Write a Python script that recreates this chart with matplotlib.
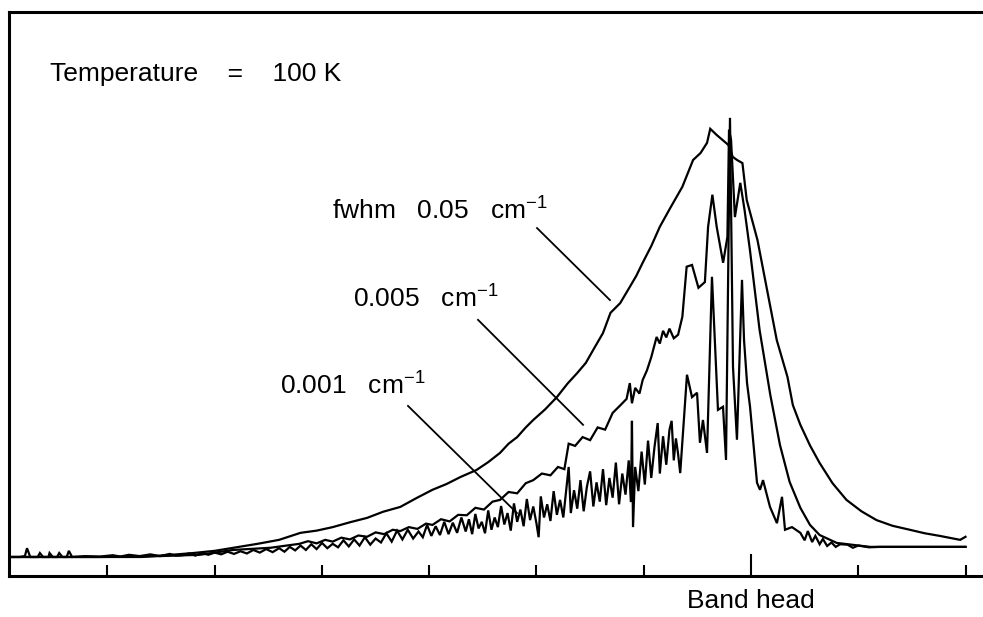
import matplotlib
matplotlib.use("Agg")
import matplotlib.pyplot as plt

# ----------------------------
# Data (arbitrary units, band head at x = 0, tick spacing = 1)
# each entry: (relative wavenumber, intensity)
# ----------------------------
# fwhm 0.05 cm-1
spec_005 = [
    (-6.92, 0.0), (-5.68, 0.0), (-5.40, 0.5), (-5.20, 0.9), (-5.00, 1.4),
    (-4.80, 2.2), (-4.60, 3.0), (-4.40, 3.9), (-4.20, 5.5), (-4.05, 6.0),
    (-3.90, 6.8), (-3.74, 7.9), (-3.58, 8.9), (-3.43, 10.3), (-3.27, 11.4),
    (-3.12, 13.4), (-2.97, 15.3), (-2.84, 16.6), (-2.71, 18.2), (-2.56, 19.8),
    (-2.45, 21.6), (-2.34, 23.7), (-2.26, 25.8), (-2.18, 27.3), (-2.10, 29.5),
    (-2.03, 31.2), (-1.92, 33.6), (-1.81, 36.4), (-1.71, 39.5), (-1.62, 41.9),
    (-1.54, 44.2), (-1.47, 47.2), (-1.38, 51.0), (-1.31, 55.6), (-1.22, 57.8),
    (-1.13, 61.5), (-1.07, 64.0), (-1.01, 67.0), (-0.93, 70.8), (-0.85, 75.2),
    (-0.75, 79.6), (-0.64, 84.3), (-0.54, 90.4), (-0.47, 92.0), (-0.41, 94.3),
    (-0.38, 97.5), (-0.32, 96.1), (-0.21, 93.8), (-0.17, 91.1), (-0.13, 90.4),
    (-0.08, 89.7), (-0.04, 81.3), (0.06, 72.2), (0.15, 60.8), (0.24, 49.4),
    (0.34, 41.0), (0.39, 34.6), (0.46, 30.1), (0.55, 25.4), (0.64, 21.4),
    (0.76, 16.8), (0.89, 13.0), (1.03, 10.4), (1.17, 8.4), (1.32, 7.1),
    (1.48, 6.2), (1.62, 5.4), (1.76, 4.8), (1.95, 3.9), (2.00, 4.6),
]

# 0.005 cm-1
spec_0005 = [
    (-6.92, 0.0), (-6.07, 0.0), (-5.51, 0.2), (-5.14, 0.5), (-4.83, 1.6),
    (-4.48, 2.1), (-4.21, 3.0), (-4.13, 3.6), (-4.05, 3.1), (-3.97, 3.9),
    (-3.90, 3.5), (-3.82, 4.4), (-3.74, 4.0), (-3.66, 4.9), (-3.58, 4.6),
    (-3.50, 5.6), (-3.42, 5.2), (-3.34, 6.2), (-3.27, 5.9), (-3.19, 6.8),
    (-3.11, 6.4), (-3.03, 7.6), (-2.97, 7.3), (-2.89, 8.6), (-2.81, 8.1),
    (-2.73, 9.6), (-2.65, 9.5), (-2.57, 11.2), (-2.49, 10.8), (-2.41, 12.6),
    (-2.34, 13.0), (-2.26, 14.8), (-2.18, 14.5), (-2.10, 16.8), (-2.03, 17.5),
    (-1.95, 19.0), (-1.87, 18.6), (-1.80, 20.5), (-1.74, 20.0), (-1.70, 25.8),
    (-1.64, 25.3), (-1.57, 27.3), (-1.50, 26.6), (-1.43, 29.5), (-1.36, 29.0),
    (-1.29, 32.8), (-1.22, 34.5), (-1.16, 36.0), (-1.13, 39.6), (-1.11, 35.0),
    (-1.08, 38.5), (-1.04, 37.2), (-1.01, 40.3), (-0.97, 42.5), (-0.93, 45.5),
    (-0.88, 50.1), (-0.85, 48.6), (-0.82, 51.5), (-0.79, 50.0), (-0.76, 52.0),
    (-0.72, 49.8), (-0.68, 50.6), (-0.64, 54.7), (-0.60, 66.1), (-0.55, 66.5),
    (-0.49, 61.3), (-0.43, 62.6), (-0.40, 75.2), (-0.36, 82.5), (-0.32, 75.2),
    (-0.26, 67.0), (-0.22, 72.9), (-0.205, 97.3), (-0.186, 95.0), (-0.15, 77.4),
    (-0.10, 85.2), (-0.06, 79.0), (-0.01, 69.9), (0.08, 51.7), (0.18, 36.9),
    (0.27, 25.5), (0.36, 17.1), (0.46, 11.2), (0.55, 7.3), (0.64, 5.0),
    (0.80, 3.2), (1.11, 2.3), (2.00, 2.3),
]

# 0.001 cm-1 (resolved rotational lines)
spec_0001 = [
    (-6.92, 0.0), (-6.82, 0.0), (-6.77, 0.2), (-6.75, 2.0), (-6.72, 0.0),
    (-6.65, 0.0), (-6.63, 0.9), (-6.60, 0.0), (-6.55, 0.0), (-6.54, 0.9),
    (-6.51, 0.0), (-6.47, 0.0), (-6.45, 0.9), (-6.42, 0.0), (-6.38, 0.0),
    (-6.36, 1.4), (-6.33, 0.0), (-6.21, 0.2), (-6.07, 0.1), (-5.95, 0.4),
    (-5.88, 0.1), (-5.80, 0.5), (-5.70, 0.2), (-5.60, 0.6), (-5.51, 0.2),
    (-5.42, 0.7), (-5.36, 0.3), (-5.30, 0.4), (-5.24, 0.8), (-5.18, 0.3),
    (-5.12, 0.9), (-5.06, 0.5), (-5.00, 1.0), (-4.94, 0.6), (-4.88, 1.2),
    (-4.82, 0.7), (-4.76, 1.3), (-4.70, 0.8), (-4.64, 1.6), (-4.58, 1.0),
    (-4.52, 1.8), (-4.46, 1.1), (-4.40, 2.0), (-4.35, 1.2), (-4.30, 2.3),
    (-4.25, 1.5), (-4.20, 2.6), (-4.15, 1.6), (-4.10, 2.9), (-4.05, 1.8),
    (-4.00, 3.2), (-3.95, 2.0), (-3.90, 3.0), (-3.85, 2.2), (-3.80, 3.8),
    (-3.75, 2.4), (-3.70, 4.0), (-3.65, 2.6), (-3.60, 4.5), (-3.55, 2.8),
    (-3.50, 4.2), (-3.45, 3.3), (-3.40, 5.4), (-3.35, 3.5), (-3.30, 6.0),
    (-3.25, 4.0), (-3.20, 6.2), (-3.15, 4.2), (-3.10, 5.8), (-3.06, 4.5),
    (-3.02, 7.3), (-2.98, 4.8), (-2.94, 7.0), (-2.90, 5.0), (-2.86, 8.0),
    (-2.82, 5.2), (-2.78, 7.8), (-2.74, 5.5), (-2.70, 9.0), (-2.66, 5.8),
    (-2.63, 8.6), (-2.60, 5.2), (-2.57, 9.8), (-2.54, 6.5), (-2.51, 8.0),
    (-2.48, 5.4), (-2.45, 10.6), (-2.42, 6.2), (-2.39, 9.0), (-2.36, 6.8),
    (-2.33, 11.6), (-2.30, 7.4), (-2.27, 10.0), (-2.24, 6.0), (-2.21, 12.2),
    (-2.18, 8.0), (-2.15, 10.8), (-2.12, 7.0), (-2.09, 13.2), (-2.06, 8.4),
    (-2.03, 11.5), (-2.00, 7.6), (-1.98, 4.5), (-1.96, 13.8), (-1.93, 9.0),
    (-1.90, 12.0), (-1.87, 8.2), (-1.84, 15.0), (-1.81, 9.6), (-1.78, 13.0),
    (-1.75, 9.0), (-1.72, 16.0), (-1.70, 20.5), (-1.68, 10.0), (-1.65, 15.2),
    (-1.62, 11.0), (-1.59, 17.5), (-1.56, 10.4), (-1.53, 16.0), (-1.50, 19.5),
    (-1.47, 11.5), (-1.44, 17.0), (-1.41, 12.6), (-1.38, 20.0), (-1.35, 11.8),
    (-1.32, 18.0), (-1.29, 13.5), (-1.26, 21.5), (-1.23, 12.0), (-1.20, 19.0),
    (-1.17, 14.2), (-1.14, 22.0), (-1.12, 12.5), (-1.11, 31.0), (-1.10, 6.8),
    (-1.08, 20.5), (-1.05, 15.0), (-1.02, 24.0), (-0.99, 16.5), (-0.96, 26.5),
    (-0.93, 18.0), (-0.90, 25.0), (-0.87, 30.5), (-0.85, 19.0), (-0.82, 27.5),
    (-0.79, 21.0), (-0.76, 29.0), (-0.74, 31.0), (-0.72, 22.0), (-0.70, 27.0),
    (-0.68, 23.5), (-0.66, 19.1), (-0.597, 41.5), (-0.550, 36.4), (-0.503, 37.4),
    (-0.476, 26.0), (-0.448, 31.2), (-0.410, 23.7), (-0.364, 63.8), (-0.336, 48.7),
    (-0.308, 33.5), (-0.261, 34.2), (-0.233, 22.1), (-0.214, 62.4), (-0.196, 100.0),
    (-0.168, 43.3), (-0.131, 26.7), (-0.084, 63.1), (-0.065, 49.4), (-0.037, 39.6),
    (-0.009, 34.2), (0.056, 16.9), (0.084, 15.3), (0.112, 17.5), (0.177, 11.4),
    (0.242, 7.7), (0.289, 13.7), (0.317, 6.2), (0.382, 6.8), (0.46, 5.5),
    (0.50, 3.8), (0.53, 5.9), (0.57, 3.4), (0.60, 4.8), (0.64, 2.9),
    (0.67, 4.1), (0.71, 2.5), (0.75, 3.3), (0.79, 2.3), (0.83, 2.9),
    (0.90, 2.8), (0.95, 2.1), (1.00, 2.6), (1.10, 2.2), (1.20, 2.3),
    (2.00, 2.3),
]

# label texts and their pointer lines (x0, y0) -> (x1, y1)
labels = ["fwhm   0.05   cm$^{-1}$", "0.005   cm$^{-1}$", "0.001   cm$^{-1}$"]
label_xy = [(-3.907, 76.8), (-3.711, 56.7), (-4.392, 36.9)]
pointers = [(-1.995, 74.9, -1.315, 58.5),
            (-2.545, 54.0, -1.566, 30.1),
            (-3.198, 34.4, -2.182, 10.0)]
tick_pos = [-6, -5, -4, -3, -2, -1, 1, 2]
band_head = 0

# ----------------------------
# Plot
# ----------------------------
plt.rcParams["font.family"] = ["Liberation Sans", "DejaVu Sans"]
plt.rcParams["mathtext.fontset"] = "custom"
plt.rcParams["mathtext.rm"] = "Liberation Sans"
plt.rcParams["mathtext.default"] = "regular"

fig = plt.figure(figsize=(9.83, 6.17), dpi=100)
ax = fig.add_axes([9 / 983, 41 / 617, 974 / 983, 564 / 617])

lw = 1.6
for spec in (spec_005, spec_0005, spec_0001):
    xs, ys = zip(*spec)
    ax.plot(xs, ys, color="black", lw=lw, solid_joinstyle="miter")

for x0, y0, x1, y1 in pointers:
    ax.plot([x0, x1], [y0, y1], color="black", lw=1.3)

fs = 19
for txt, (tx, ty) in zip(labels, label_xy):
    ax.text(tx, ty, txt, fontsize=fs, va="baseline")
ax.text(-6.536, 108.4, "Temperature    =    100 K", fontsize=fs, va="baseline")

ax.text(band_head, -0.057, "Band head", fontsize=fs, ha="center", va="baseline",
        transform=ax.get_xaxis_transform())

ax.set_xlim(-6.918, 2.163)
ax.set_ylim(-4.33, 124.1)

ax.set_xticks(tick_pos)
ax.set_xticks([band_head], minor=True)
ax.tick_params(axis="x", which="major", direction="in", length=8, width=1.5,
               color="black", labelbottom=False)
ax.tick_params(axis="x", which="minor", direction="in", length=16, width=1.5,
               color="black", labelbottom=False)
ax.set_yticks([])

ax.spines["right"].set_visible(False)
for side in ["left", "top", "bottom"]:
    ax.spines[side].set_linewidth(2.2)
    ax.spines[side].set_color("black")

fig.savefig("out.png", dpi=100, facecolor="white")
